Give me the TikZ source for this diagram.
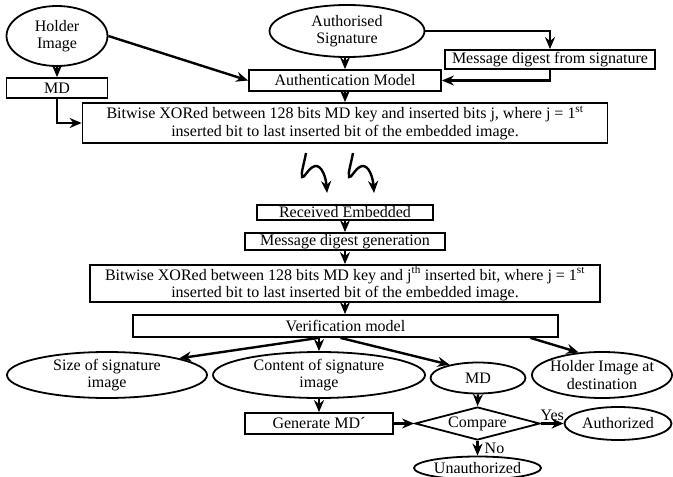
\documentclass[tikz,border=0pt]{standalone}
\usepackage{fontspec}
\setmainfont{Liberation Serif}
\usetikzlibrary{arrows.meta,shapes.geometric}

\begin{document}
\begin{tikzpicture}[x = 1pt, y = -1pt, font = \fontsize{16}{17.5}\selectfont,
	box/.style = {draw, line width = 1.8pt, inner sep = 0pt, align = center},
	oval/.style = {draw, ellipse, line width = 1.8pt, inner sep = -4pt, align = center},
	arr/.style = {line width = 2.4pt, -{Stealth[length = 12pt, width = 10pt]}}]
	\useasboundingbox (0, 0) rectangle (673, 477);
	\node[oval, minimum width = 101pt, minimum height = 60pt] (holder) at (57, 36) {Holder\\Image};
	\node[oval, minimum width = 155pt, minimum height = 52pt] (authsig) at (347, 31) {Authorised\\Signature};
	\node[box, minimum width = 192pt, minimum height = 21pt] (auth) at (345, 80.5) {Authentication Model};
	\node[box, minimum width = 210pt, minimum height = 19pt] (msgsig) at (550, 59.5) {Message digest from signature};
	\node[box, minimum width = 101pt, minimum height = 20pt] (md) at (57, 88) {MD};
	\node[box, minimum width = 525pt, minimum height = 40pt] (xorA) at (345, 123)
		{Bitwise XORed between 128 bits MD key and inserted bits j, where j = 1\textsuperscript{st}\\inserted bit to last inserted bit of the embedded image.};
	\node[box, minimum width = 176pt, minimum height = 15pt] (recv) at (345, 212.5) {Received Embedded};
	\node[box, minimum width = 200pt, minimum height = 17pt] (mdgen) at (345, 241.5) {Message digest generation};
	\node[box, minimum width = 510pt, minimum height = 37pt] (xorB) at (345, 283.5)
		{Bitwise XORed between 128 bits MD key and j\textsuperscript{th} inserted bit, where j = 1\textsuperscript{st}\\inserted bit to last inserted bit of the embedded image.};
	\node[box, minimum width = 425pt, minimum height = 22pt] (verif) at (345.5, 326) {Verification model};
	\node[oval, minimum width = 200pt, minimum height = 46pt] (size) at (107, 375) {Size of signature\\image};
	\node[oval, minimum width = 212pt, minimum height = 46pt] (content) at (319, 375) {Content of signature\\image};
	\node[oval, minimum width = 95pt, minimum height = 31pt] (mdB) at (478, 378) {MD};
	\node[oval, minimum width = 140pt, minimum height = 46pt] (dest) at (602, 375) {Holder Image at\\destination};
	\node[box, minimum width = 148pt, minimum height = 21pt] (gen) at (319, 423.5) {Generate MD´};
	\node[draw, diamond, aspect = 3.8, line width = 1.8pt, inner sep = 0pt, minimum width = 125pt, minimum height = 33pt] (compare) at (477.5, 423.5) {Compare};
	\node[oval, minimum width = 107pt, minimum height = 33pt] (authd) at (618, 423.5) {Authorized};
	\node[oval, minimum width = 127pt, minimum height = 23pt] (unauth) at (477.5, 468) {Unauthorized};
	\draw[arr] (holder.east) -- (auth.west);
	\draw[arr] (authsig.east) -| (msgsig.north);
	\draw[arr] (msgsig.south) |- (auth.east);
	\draw[arr] (auth.north |- authsig.south) -- (auth.north);
	\draw[arr] (holder.south) -- (md.north);
	\draw[arr] (md.south) |- (xorA.west);
	\draw[arr] (auth.south) -- (xorA.north);
	\foreach \d in {0, 47}{
		\draw[arr] (306 + \d, 153) .. controls (304 + \d, 164) and (301 + \d, 172) .. (302 + \d, 177)
			.. controls (304 + \d, 179) and (308 + \d, 168) .. (315 + \d, 166)
			.. controls (322 + \d, 165) and (326 + \d, 178) .. (327 + \d, 193);}
	\draw[arr] (recv.south) -- (mdgen.north);
	\draw[arr] (mdgen.south) -- (xorB.north);
	\draw[arr] (xorB.south) -- (xorB.south |- verif.north);
	\draw[arr] ([xshift = -27pt]verif.south) -- (size.13);
	\draw[arr] (verif.south -| content.north) -- (content.north);
	\draw[arr] ([xshift = -5pt]verif.south) -- (mdB.155);
	\draw[arr] ([xshift = 185pt]verif.south) -- (dest.136);
	\draw[arr] (content.south) -- (gen.north);
	\draw[arr] (mdB.south) -- (compare.north);
	\draw[arr] (gen.east) -- (compare.west);
	\draw[arr] (compare.east) -- node[above, inner sep = 2pt] {Yes} (authd.west);
	\draw[arr] (compare.south) -- node[right, inner sep = 6pt] {No} (unauth.north);
\end{tikzpicture}
\end{document}
